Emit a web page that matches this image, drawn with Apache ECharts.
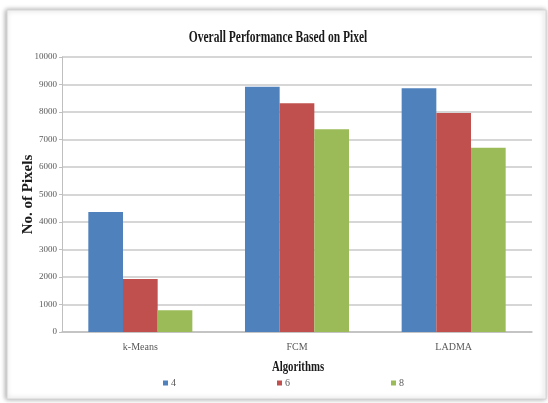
<!DOCTYPE html>
<html>
<head>
<meta charset="utf-8">
<script src="https://cdn.jsdelivr.net/npm/echarts@6/dist/echarts.min.js"></script>
<style>html,body{margin:0;padding:0;background:#fff;}#c{width:548px;height:403px;}</style>
</head>
<body>
<div id="c"></div>
<script>
var categories = ['k-Means', 'FCM', 'LADMA'];
var seriesNames = ['4', '6', '8'];
var values4 = [4360, 8920, 8860];
var values6 = [1930, 8320, 7960];
var values8 = [790, 7370, 6700];
var yTicks = [0, 1000, 2000, 3000, 4000, 5000, 6000, 7000, 8000, 9000, 10000];
var colors = ['#4F81BD', '#C0504D', '#9BBB59'];
var titleText = 'Overall Performance Based on Pixel';
var xAxisTitle = 'Algorithms';
var yAxisTitle = 'No. of Pixels';

var chart = echarts.init(document.getElementById('c'));
var serif = '"Liberation Serif", "Times New Roman", serif';
var allVals = [values4, values6, values8];
chart.setOption({
  animation: false,
  graphic: [
    { type: 'rect', z: -10, silent: true,
      shape: { x: 7, y: 10, width: 539, height: 389 },
      style: { fill: '#fff', stroke: '#d4d4d4', lineWidth: 1,
               shadowBlur: 5, shadowColor: 'rgba(0,0,0,0.35)', shadowOffsetX: -1, shadowOffsetY: 0 } },
    { type: 'text', z: 10, x: 278, y: 38, scaleX: 0.72, originX: 0, originY: 0,
      style: { text: titleText, font: 'bold 16px ' + serif, fill: '#1a1a1a',
               textAlign: 'center', textVerticalAlign: 'middle' } },
    { type: 'text', z: 10, x: 298, y: 367, scaleX: 0.72, originX: 0, originY: 0,
      style: { text: xAxisTitle, font: 'bold 15px ' + serif, fill: '#1a1a1a',
               textAlign: 'center', textVerticalAlign: 'middle' } }
  ],
  grid: { left: 62, right: 16, top: 57, bottom: 71, containLabel: false },
  legend: {
    data: seriesNames, left: 158, top: 373, itemWidth: 5, itemHeight: 5, itemGap: 101,
    icon: 'rect',
    textStyle: { fontFamily: serif, fontSize: 10, color: '#595959', padding: [0, 0, 0, -2] }
  },
  xAxis: {
    type: 'category', data: categories,
    axisLine: { lineStyle: { color: '#bfbfbf', width: 1.5 } },
    axisTick: { show: false },
    axisLabel: { fontFamily: serif, fontSize: 10, color: '#595959', margin: 10 }
  },
  yAxis: {
    type: 'value', min: yTicks[0], max: yTicks[yTicks.length - 1], interval: 1000,
    name: yAxisTitle, nameLocation: 'middle', nameGap: 26, nameMoveOverlap: false,
    nameTextStyle: { fontFamily: serif, fontWeight: 'bold', fontSize: 15, color: '#1a1a1a' },
    axisLine: { show: true, lineStyle: { color: '#bfbfbf' } },
    axisTick: { show: true, length: 3, lineStyle: { color: '#bfbfbf' } },
    axisLabel: { fontFamily: serif, fontSize: 9, color: '#595959', margin: 5,
                 formatter: function (v) { return String(v); } },
    splitLine: { lineStyle: { color: '#c8c8c8', width: 1.5 } }
  },
  series: seriesNames.map(function (n, i) {
    return { name: n, type: 'bar', data: allVals[i], barGap: '0%', barCategoryGap: '33.6%',
             itemStyle: { color: colors[i] } };
  })
});
</script>
</body>
</html>
